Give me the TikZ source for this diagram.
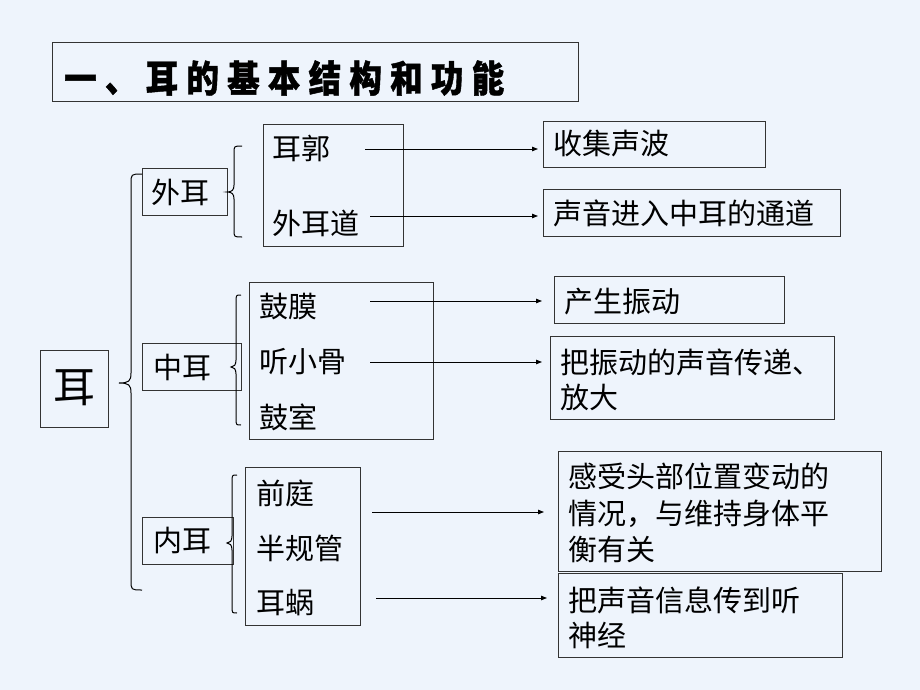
\documentclass[tikz,border=0pt]{standalone}
\usepackage{fontspec}
\setmainfont{Noto Sans CJK SC}
\usetikzlibrary{arrows.meta}
\definecolor{bg}{RGB}{238,244,252}
\tikzset{
 box/.style={draw=black!80, line width=1.1pt, inner sep=0pt, anchor=north west},
 lbl/.style={anchor=west, inner sep=0pt, font=\fontsize{29}{35}\selectfont, align=left},
 arr/.style={line width=0.9pt, -{Triangle[length=6pt,width=4.5pt]}},
 brc/.style={line width=1pt},
}
\newcommand{\tsp}{\hspace{9.3pt}}
\newcommand{\mybrace}[7]{%
 \draw[brc] (#3,#4) .. controls (#1,#4) .. (#1,#4+#7) -- (#1,#5-#7) .. controls (#1,#5-2) and (#1-2,#5) .. (#2,#5) .. controls (#1-2,#5) and (#1,#5+2) .. (#1,#5+#7) -- (#1,#6-#7) .. controls (#1,#6) .. (#3,#6);}
\begin{document}
\begin{tikzpicture}[x=1pt,y=-1pt]
\fill[bg] (0,0) rectangle (920,690);
\useasboundingbox (0,0) rectangle (920,690);
% title
\node[box, minimum width=526pt, minimum height=59pt] (title) at (52,42) {};
\node[anchor=west, inner sep=0pt, font=\fontsize{37}{37}\selectfont\bfseries\addfontfeature{FakeBold=1.2}] (ttl) at (64,78) {\scalebox{0.88}[1]{一\tsp{}、\tsp{}耳\tsp{}的\tsp{}基\tsp{}本\tsp{}结\tsp{}构\tsp{}和\tsp{}功\tsp{}能}};
% ear
\node[box, minimum width=68pt, minimum height=77pt] (ear) at (40,350) {};
\node[inner sep=0pt, font=\fontsize{42}{42}\selectfont] (eart) at (74,388) {耳};
% level 1 boxes
\node[box, minimum width=85pt, minimum height=47pt] (waier) at (142,168) {};
\node[box, minimum width=99pt, minimum height=47pt] (zhonger) at (142,343) {};
\node[box, minimum width=91pt, minimum height=47pt] (neier) at (142,517) {};
\node[lbl] (waiert) at (151,192) {外耳};
\node[lbl] (zhongert) at (153,367) {中耳};
\node[lbl] (neiert) at (153,541) {内耳};
% braces
\mybrace{131}{119}{142}{174}{383}{590}{10}
\mybrace{234}{227}{242}{146}{192}{237}{7}
\mybrace{236}{231}{241}{295}{367}{425}{7}
\mybrace{232}{227}{237}{475}{543}{613}{7}
% level 2 boxes
\node[box, minimum width=140pt, minimum height=122pt] (b1) at (263,124) {};
\node[box, minimum width=184pt, minimum height=157pt] (b2) at (249,282) {};
\node[box, minimum width=115pt, minimum height=158pt] (b3) at (245,467) {};
\node[lbl] (erguo) at (272,148) {耳郭};
\node[lbl] (waierdao) at (272,223) {外耳道};
\node[lbl] (gumo) at (259,307) {鼓膜};
\node[lbl] (tingxiaogu) at (259,362) {听小骨};
\node[lbl] (gushi) at (259,417) {鼓室};
\node[lbl] (qianting) at (256,493) {前庭};
\node[lbl] (banguiguan) at (256,548) {半规管};
\node[lbl] (erwo) at (256,603) {耳蜗};
% function boxes
\node[box, minimum width=222pt, minimum height=46pt] (f1) at (543,121) {};
\node[box, minimum width=297pt, minimum height=47pt] (f2) at (543,189) {};
\node[box, minimum width=230pt, minimum height=47pt] (f3) at (554,276) {};
\node[box, minimum width=284pt, minimum height=83pt] (f4) at (550,336) {};
\node[box, minimum width=323pt, minimum height=120pt] (f5) at (558,451) {};
\node[box, minimum width=284pt, minimum height=84pt] (f6) at (558,573) {};
\node[lbl] (f1t) at (553,144) {收集声波};
\node[lbl] (f2t) at (553,213) {声音进入中耳的通道};
\node[lbl] (f3t) at (564,302) {产生振动};
\node[lbl] (f4t) at (560,379.5) {把振动的声音传递、\\放大};
\node[lbl, font=\fontsize{29}{36.5}\selectfont] (f5t) at (568,513) {感受头部位置变动的\\情况，与维持身体平\\衡有关};
\node[lbl] (f6t) at (568,617.5) {把声音信息传到听\\神经};
% arrows
\coordinate (s1) at (365,149);
\coordinate (s2) at (370,216);
\coordinate (s3) at (370,301);
\coordinate (s4) at (370,362);
\coordinate (s5) at (372,512);
\coordinate (s6) at (376,598);
\draw[arr, shorten >=5pt] (s1) -- (s1 -| f1.west);
\draw[arr, shorten >=5pt] (s2) -- (s2 -| f2.west);
\draw[arr, shorten >=12pt] (s3) -- (s3 -| f3.west);
\draw[arr, shorten >=8pt] (s4) -- (s4 -| f4.west);
\draw[arr, shorten >=14pt] (s5) -- (s5 -| f5.west);
\draw[arr, shorten >=11pt] (s6) -- (s6 -| f6.west);
\end{tikzpicture}
\end{document}
